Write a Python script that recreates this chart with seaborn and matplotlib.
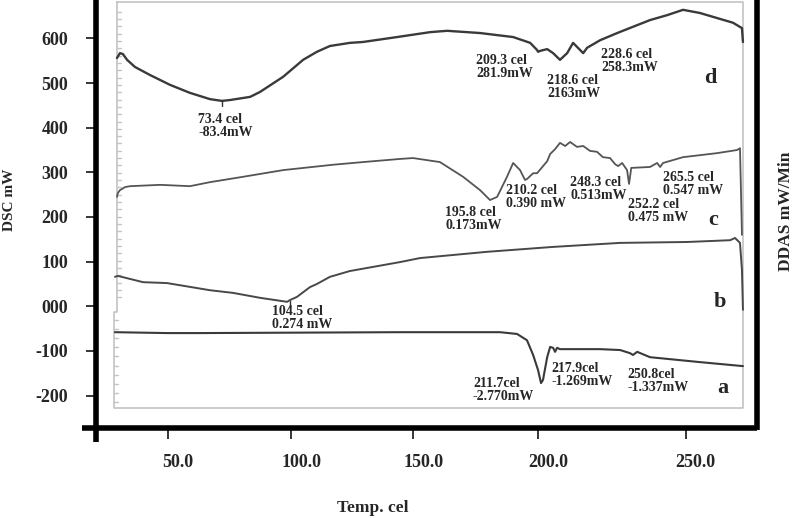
import matplotlib
matplotlib.use("Agg")
import matplotlib.pyplot as plt
from matplotlib.transforms import ScaledTranslation
import numpy as np
import pandas as pd
import seaborn as sns

# --- traces (temperature in cel, DSC in mW) ---
d_temp = [29.3, 30.5, 31.7, 33.4, 36.6, 42.7, 50.8, 58.9, 67.0, 71.9, 75.2, 83.3, 87.3,
          96.7, 104.8, 110.4, 115.7, 123.8, 129.1, 142.9, 156.3, 163.2, 176.6, 190.0,
          196.9, 199.7, 200.1, 200.9, 203.8, 206.2, 209.0, 211.9, 214.3, 215.9, 218.4,
          220.0, 225.3, 232.2, 238.6, 245.5, 252.4, 258.9, 265.7, 279.2, 282.8, 283.2]
d_dsc = [556, 567, 565, 552, 536, 518, 496, 478, 464, 460, 462, 469, 480,
         514, 552, 570, 583, 590, 592, 603, 614, 617, 612, 603,
         590, 574, 570, 572, 576, 567, 552, 567, 590, 581, 567,
         579, 596, 612, 626, 641, 652, 664, 657, 635, 623, 592]

c_temp = [29.3, 29.7, 30.5, 32.6, 34.6, 46.8, 58.9, 67.0, 80.4, 96.7, 116.9, 129.1, 144.1,
          149.4, 160.3, 169.7, 176.6, 180.6, 183.5, 187.5, 190.0, 192.8, 194.8, 195.6,
          198.1, 199.7, 203.8, 205.0, 207.0, 209.0, 211.1, 213.1, 215.9, 218.4, 221.2,
          224.0, 226.4, 229.3, 231.4, 232.6, 234.2, 236.2, 237.0, 237.9, 245.5, 248.4,
          249.6, 250.8, 258.9, 272.7, 280.8, 282.0, 282.8]
c_dsc = [245, 254, 260, 267, 269, 272, 269, 278, 290, 305, 317, 323, 330,
         332, 323, 290, 260, 238, 245, 290, 321, 305, 283, 285,
         298, 298, 325, 341, 352, 366, 359, 368, 357, 359, 348,
         346, 334, 332, 318, 314, 321, 305, 274, 310, 312, 321,
         312, 321, 334, 343, 350, 354, 160]

b_temp = [28.5, 29.7, 39.9, 49.6, 67.0, 76.4, 87.3, 98.3, 99.5, 102.3, 107.6, 110.4,
          115.7, 123.8, 144.1, 152.2, 179.4, 206.2, 233.4, 260.5, 278.0, 280.0, 282.0,
          282.8, 283.2]
b_dsc = [66, 68, 54, 52, 36, 30, 19, 10, 14, 21, 43, 50,
         66, 79, 99, 108, 122, 133, 142, 144, 148, 153, 142,
         81, -8]

a_temp = [28.5, 49.6, 63.0, 144.1, 184.7, 191.6, 195.6, 198.1, 200.1, 201.3, 202.1,
          203.8, 205.0, 206.2, 207.0, 207.8, 209.0, 225.3, 233.4, 237.4, 238.6, 240.3,
          245.5, 265.7, 283.2]
a_dsc = [-58, -60, -60, -58, -58, -62, -76, -109, -143, -172, -165,
         -114, -91, -93, -102, -93, -96, -96, -98, -105, -109, -102,
         -114, -125, -134]

curve_names = ["d", "c", "b", "a"]

# peak labels as printed on the figure
note_texts = ["73.4 cel\n-83.4mW", "209.3 cel\n281.9mW", "218.6 cel\n2163mW",
              "228.6 cel\n258.3mW", "195.8 cel\n0.173mW", "210.2 cel\n0.390 mW",
              "248.3 cel\n0.513mW", "252.2 cel\n0.475 mW", "265.5 cel\n0.547 mW",
              "104.5 cel\n0.274 mW", "211.7cel\n-2.770mW", "217.9cel\n-1.269mW",
              "250.8cel\n-1.337mW"]

ytick_vals = [600, 500, 400, 300, 200, 100, 0, -100, -200]
ytick_labels = ["600", "500", "400", "300", "200", "100", "000", "-100", "-200"]
xtick_labels = ["50.0", "100.0", "150.0", "200.0", "250.0"]


def build_frame():
    parts = []
    for name, t, v in [("d", d_temp, d_dsc), ("c", c_temp, c_dsc),
                       ("b", b_temp, b_dsc), ("a", a_temp, a_dsc)]:
        parts.append(pd.DataFrame({"temp": t, "dsc": v, "curve": name}))
    return pd.concat(parts, ignore_index=True)


def main():
    sns.set_style("white")
    plt.rcParams["font.family"] = ["Liberation Serif", "DejaVu Serif"]
    plt.rcParams["font.weight"] = "bold"

    df = build_frame()

    fig = plt.figure(figsize=(8, 5.18), dpi=100)
    ax = fig.add_axes([96 / 800, 90 / 518, 661 / 800, 428 / 518])

    # faint inner frame of the scanned panels
    frame_col = "#c4c4c4"
    ax.plot([29.3, 283.3, 283.3, 28.1, 28.1, 29.3, 29.3], [681, 681, -228, -228, -13, -13, 681],
            color=frame_col, lw=1.2, zorder=1)
    for yy in np.linspace(660, 20, 40):
        ax.plot([29.3, 30.9], [yy, yy], color=frame_col, lw=1, zorder=1)
    for yy in np.linspace(-30, -215, 10):
        ax.plot([28.1, 29.7], [yy, yy], color=frame_col, lw=1, zorder=1)

    widths = {"d": 1.7, "c": 1.3, "b": 1.4, "a": 1.5}
    colors = {"d": "#3a3a3a", "c": "#555555", "b": "#484848", "a": "#3a3a3a"}
    for name in curve_names:
        sub = df[df["curve"] == name]
        sns.lineplot(data=sub, x="temp", y="dsc", sort=False, estimator=None,
                     color=colors[name], lw=widths[name], ax=ax, legend=False)

    # small marks at the labelled minima
    ax.plot([71.9, 71.9], [462, 448], color="#333333", lw=1)
    ax.plot([99.5, 99.5], [12, -2], color="#333333", lw=1)

    note_pos = [(62.2, 404), (174.9, 536), (203.8, 491), (225.7, 549),
                (162.4, 196), (187.1, 245), (213.1, 263), (236.6, 213), (250.8, 274),
                (92.2, -26), (173.7, -188), (205.4, -154), (236.2, -167)]
    for txt, (x, y) in zip(note_texts, note_pos):
        ax.text(x, y, txt, fontsize=10, fontweight="bold", ha="left", va="center",
                linespacing=1.05)

    letter_pos = [(269.9, 511), (271.1, 193), (273.9, 10), (275.1, -183)]
    for name, (x, y) in zip(curve_names, letter_pos):
        ax.text(x, y, name, fontsize=16, fontweight="bold", ha="center", va="center")

    ax.set_xlim(20.8, 288.9)
    ax.set_ylim(-272.6, 686)

    for s in ax.spines.values():
        s.set_visible(False)
    # heavy hand-drawn looking axis lines
    ax.plot([0, 0], [-0.033, 1.0], transform=ax.transAxes, color="black", lw=4,
            clip_on=False, solid_capstyle="butt")
    ax.plot([-0.021, 1.0], [0, 0], transform=ax.transAxes, color="black", lw=4,
            clip_on=False, solid_capstyle="butt")
    ax.plot([1.0, 1.0], [-0.005, 1.0], transform=ax.transAxes, color="black", lw=4,
            clip_on=False, solid_capstyle="butt")

    ax.set_yticks(ytick_vals)
    ax.set_yticklabels(ytick_labels)
    ax.set_xticks([50, 100, 149.5, 200, 260])
    ax.set_xticklabels(xtick_labels)
    ax.tick_params(axis="y", direction="out", length=7, width=1.3, pad=13,
                   labelsize=13, left=True)
    ax.tick_params(axis="x", direction="out", length=8, width=1.3, pad=11,
                   labelsize=13, bottom=True)
    shift = ScaledTranslation(10 / 100, 0, fig.dpi_scale_trans)
    for lab in ax.get_xticklabels():
        lab.set_transform(lab.get_transform() + shift)
        lab.set_fontweight("bold")
    for lab in ax.get_yticklabels():
        lab.set_fontweight("bold")

    ax.set_xlabel("")
    ax.set_ylabel("")
    fig.text(373 / 800, 1 - 508 / 518, "Temp. cel", fontsize=12.5, fontweight="bold",
             ha="center", va="center")
    fig.text(10 / 800, 1 - 200 / 518, "DSC mW", fontsize=11, fontweight="bold",
             ha="center", va="center", rotation=90)
    fig.text(786 / 800, 1 - 211 / 518, "DDAS mW/Min", fontsize=12.5, fontweight="bold",
             ha="center", va="center", rotation=90)

    fig.savefig("out.png", dpi=100)
    plt.close(fig)


if __name__ == "__main__":
    main()
